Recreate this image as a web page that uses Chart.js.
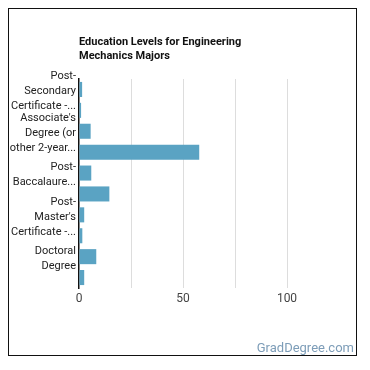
<!DOCTYPE html>
<html>
<head>
<meta charset="utf-8">
<script src="https://cdn.jsdelivr.net/npm/chart.js@4"></script>
<style>
  html, body { margin: 0; padding: 0; background: #fff; }
  #wrap { position: relative; width: 370px; height: 370px; font-family: Roboto, "Noto Sans", sans-serif; }
  #frame { position: absolute; left: 8px; top: 8px; width: 349px; height: 348px; border: 1.5px solid #111; box-sizing: border-box; }
  #title { position: absolute; left: 79px; top: 35px; font-size: 11px; font-weight: bold; line-height: 14px; color: #111; }
  #mark { position: absolute; right: 16px; top: 340px; font-size: 13px; color: #7d9db8; }
  canvas { position: absolute; left: 0; top: 0; }
</style>
</head>
<body>
<div id="wrap">
  <div id="frame"></div>
  <canvas id="c" width="370" height="370"></canvas>
  <div id="title">Education Levels for Engineering<br>Mechanics Majors</div>
  <div id="mark">GradDegree.com</div>
</div>
<script>
const categories = [
  "Post-Secondary Certificate - awarded for training completed after high school",
  "Some College Courses",
  "Associate's Degree (or other 2-year degree)",
  "Bachelor's Degree",
  "Post-Baccalaureate Certificate",
  "Master's Degree",
  "Post-Master's Certificate - awarded for completion of an organized program of study",
  "First Professional Degree",
  "Doctoral Degree",
  "Post-Doctoral Training"
];
const values = [1.5, 1, 5.6, 57.8, 5.9, 14.6, 2.5, 1.6, 8.3, 2.5];
const tickLabels = [
  ["Post-", "Secondary", "Certificate -..."],
  "",
  ["Associate's", "Degree (or", "other 2-year..."],
  "",
  ["Post-", "Baccalaure..."],
  "",
  ["Post-", "Master's", "Certificate -..."],
  "",
  ["Doctoral", "Degree"],
  ""
];
const xTicks = [0, 50, 100];

new Chart(document.getElementById('c'), {
  type: 'bar',
  data: {
    labels: categories,
    datasets: [{ data: values, backgroundColor: '#5aa3c3', borderWidth: 0 }]
  },
  options: {
    indexAxis: 'y',
    responsive: false,
    animation: false,
    events: [],
    layout: { padding: { left: 8, top: 79, right: 31, bottom: 52 } },
    plugins: { legend: { display: false }, tooltip: { enabled: false }, title: { display: false } },
    scales: {
      x: {
        min: 0, max: 125,
        ticks: {
          stepSize: 25,
          color: '#444',
          font: { family: 'Roboto', size: 12 },
          padding: 4,
          callback: (v) => xTicks.includes(v) ? String(v) : ''
        },
        grid: {
          color: (ctx) => (ctx.tick && ctx.tick.value > 0 && ctx.tick.value <= 100) ? '#dddddd' : 'rgba(0,0,0,0)',
          drawTicks: false
        },
        border: { display: false },
        afterFit: (s) => { s.height = 30; }
      },
      y: {
        ticks: {
          autoSkip: false,
          color: '#222',
          font: { family: 'Roboto', size: 11, lineHeight: 1.36 },
          padding: 3,
          labelOffset: 2,
          callback: (v, i) => tickLabels[i]
        },
        grid: { display: false, drawTicks: false },
        border: { display: true, color: '#111', width: 1.5 },
        afterFit: (s) => { s.width = 71; }
      }
    }
  }
});
</script>
</body>
</html>
